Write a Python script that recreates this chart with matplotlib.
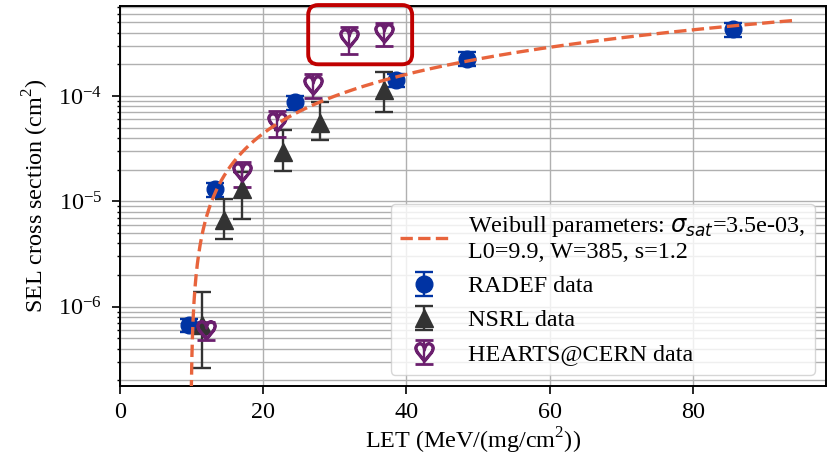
import numpy as np
import matplotlib
matplotlib.use("Agg")
import matplotlib.pyplot as plt
from matplotlib.patches import FancyBboxPatch
from matplotlib.transforms import IdentityTransform

plt.rcParams["font.family"] = ["Liberation Serif", "DejaVu Sans"]
plt.rcParams["axes.unicode_minus"] = True

# Weibull fit parameters
sigma_sat = 3.5e-3
L0 = 9.9
W = 385
s = 1.2

# RADEF measurements
radef_let = [9.6, 13.3, 24.4, 38.6, 48.5, 85.5]
radef_xs = [6.7e-7, 1.3e-5, 8.7e-5, 1.42e-4, 2.25e-4, 4.3e-4]
radef_err = [1.0e-7, 2.0e-6, 1.3e-5, 2.1e-5, 3.4e-5, 6.5e-5]

# NSRL measurements (asymmetric errors)
nsrl_let = [11.5, 14.5, 17.0, 22.8, 27.9, 36.9]
nsrl_xs = [6.7e-7, 6.7e-6, 1.3e-5, 2.96e-5, 5.5e-5, 1.14e-4]
nsrl_lo = [4.1e-7, 2.3e-6, 6.2e-6, 1.0e-5, 1.7e-5, 4.4e-5]
nsrl_hi = [7.2e-7, 3.9e-6, 6.0e-6, 1.8e-5, 3.3e-5, 5.6e-5]

# HEARTS@CERN measurements (asymmetric errors)
hearts_let = [12.1, 17.1, 21.9, 26.9, 32.0, 36.9]
hearts_xs = [6.0e-7, 1.91e-5, 5.7e-5, 1.27e-4, 3.53e-4, 3.94e-4]
hearts_lo = [1.2e-7, 5.5e-6, 1.6e-5, 3.2e-5, 1.0e-4, 9.4e-5]
hearts_hi = [1.1e-7, 4.3e-6, 1.5e-5, 3.5e-5, 9.7e-5, 9.6e-5]

# highlighted region (LET range, cross-section range)
box_let = (26.3, 40.8)
box_xs = (2.0e-4, 7.3e-4)

FS = 17.4
W_PX, H_PX, DPI = 829, 462, 100
fig = plt.figure(figsize=(W_PX / DPI, H_PX / DPI), dpi=DPI)
ax = fig.add_axes([119.7 / W_PX, 1 - 385.7 / H_PX,
                   (825.7 - 119.7) / W_PX, (385.7 - 5.5) / H_PX])

# Weibull curve
let_fit = np.linspace(L0, 1.1 * max(radef_let), 5000)
xs_fit = sigma_sat * (1 - np.exp(-((let_fit - L0) / W) ** s))
label_fit = ("Weibull parameters: $\\sigma_{sat}$=3.5e-03,\n"
             "L0=9.9, W=385, s=1.2")
ax.plot(let_fit, xs_fit, "--", color="#e8643c", lw=2.4, label=label_fit,
        zorder=4)

eb_kw = dict(linestyle="none", capsize=6.5, elinewidth=1.7, capthick=1.7)
ax.errorbar(radef_let, radef_xs, yerr=radef_err, marker="o", color="#0033a3",
            ms=12, label="RADEF data", **eb_kw)
ax.errorbar(nsrl_let, nsrl_xs, yerr=[nsrl_lo, nsrl_hi], marker="^",
            color="#333333", ms=13, label="NSRL data", **eb_kw)
ax.errorbar(hearts_let, hearts_xs, yerr=[hearts_lo, hearts_hi],
            marker="$\\heartsuit$", color="#6b1f6e", ms=13, mew=2.0,
            label="HEARTS@CERN data", **eb_kw)

ax.set_yscale("log")
ax.set_xlim(0, 98.5)
ax.set_ylim(1.78e-7, 7.23e-4)
ax.set_xticks([0, 20, 40, 60, 80])

ax.grid(True, which="both", color="#b0b0b0", lw=1.0)
ax.set_axisbelow(True)
for sp in ax.spines.values():
    sp.set_linewidth(1.4)
ax.tick_params(which="major", length=5.5, width=1.2, labelsize=FS)
ax.tick_params(axis="x", which="major", pad=6)
ax.tick_params(axis="y", which="major", pad=7)
ax.tick_params(which="minor", length=2.5, width=1.0)

ax.set_xlabel("LET (MeV/(mg/cm$^{\\mathdefault{2}}$))", fontsize=FS,
              labelpad=2)
ax.set_ylabel("SEL cross section (cm$^{\\mathdefault{2}}$)", fontsize=FS,
              labelpad=5)

ax.legend(loc="lower right", fontsize=FS, borderaxespad=0.45)

# rounded highlight frame around the two high HEARTS points
fig.canvas.draw()
(x0, y0) = ax.transData.transform((box_let[0], box_xs[0]))
(x1, y1) = ax.transData.transform((box_let[1], box_xs[1]))
frame = FancyBboxPatch((x0, y0), x1 - x0, y1 - y0,
                       boxstyle="round,pad=0,rounding_size=10",
                       transform=IdentityTransform(), fill=False,
                       edgecolor="#c00000", lw=2.8, zorder=10)
fig.add_artist(frame)

fig.savefig("out.png", dpi=DPI)
